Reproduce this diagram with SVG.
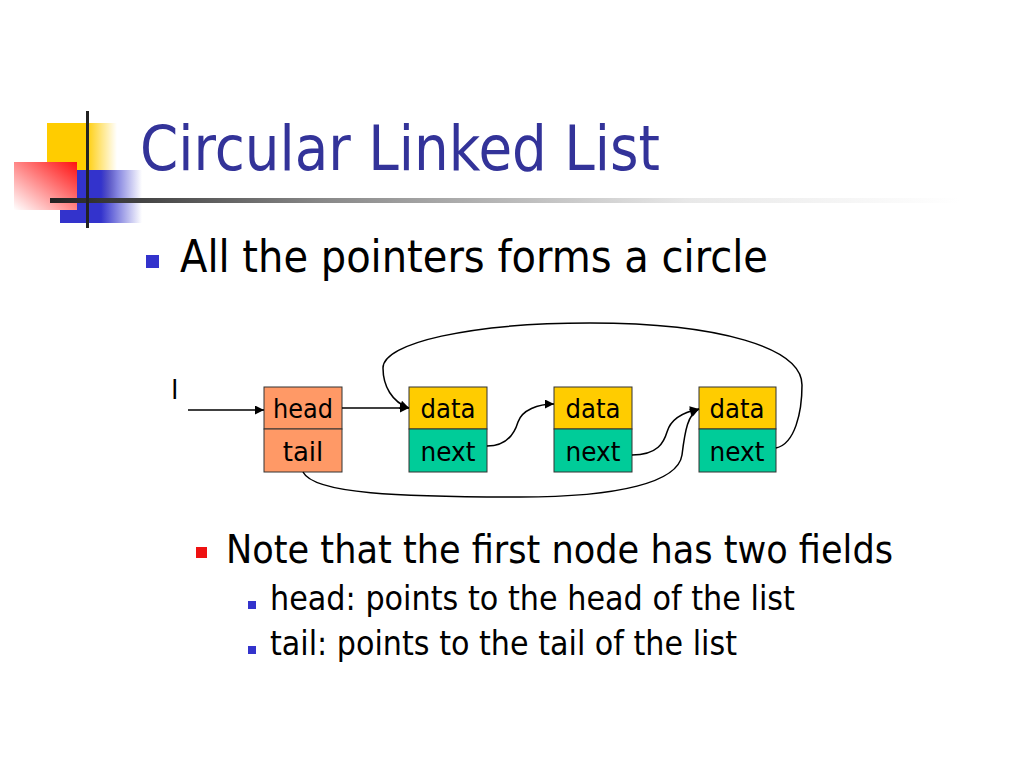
<svg xmlns="http://www.w3.org/2000/svg" width="1024" height="768" viewBox="0 0 1024 768">
<defs>
<linearGradient id="gYellow" x1="0" y1="0" x2="1" y2="0">
<stop offset="0" stop-color="#FFCC00"/><stop offset="0.55" stop-color="#FFCC00"/><stop offset="1" stop-color="#FFCC00" stop-opacity="0"/>
</linearGradient>
<linearGradient id="gRed" x1="1" y1="0" x2="0" y2="1">
<stop offset="0" stop-color="#FF1010"/><stop offset="1" stop-color="#FFFFFF"/>
</linearGradient>
<linearGradient id="gBlue" x1="0" y1="0" x2="1" y2="0">
<stop offset="0" stop-color="#3333CC"/><stop offset="0.5" stop-color="#3333CC"/><stop offset="1" stop-color="#3333CC" stop-opacity="0"/>
</linearGradient>
<linearGradient id="gLine" x1="0" y1="0" x2="1" y2="0">
<stop offset="0" stop-color="#222222"/><stop offset="0.3" stop-color="#888888"/><stop offset="0.7" stop-color="#E8E8E8"/><stop offset="1" stop-color="#FFFFFF"/>
</linearGradient>
<marker id="arr" viewBox="0 0 10 10" refX="10" refY="5" markerWidth="10" markerHeight="9" markerUnits="userSpaceOnUse" orient="auto">
<path d="M0,0 L10,5 L0,10 z" fill="#000"/>
</marker>
<style>
.t{font-family:"DejaVu Sans","Liberation Sans",sans-serif;}
.box{stroke:#333;stroke-width:1;}
.hd{fill:#FF9966;}
.dt{fill:#FFCC00;}
.nx{fill:#00CC99;}
.lbl{font-family:"DejaVu Sans","Liberation Sans",sans-serif;font-size:26px;fill:#000;text-anchor:middle;}
.con{fill:none;stroke:#000;stroke-width:1.5;}
.arrow{marker-end:url(#arr);}
</style>
</defs>
<rect width="1024" height="768" fill="#fff"/>

<g id="decor">
<rect x="47" y="123" width="70" height="75" fill="url(#gYellow)"/>
<rect x="60" y="170" width="82" height="53" fill="url(#gBlue)"/>
<rect x="14" y="162" width="63" height="48" fill="url(#gRed)"/>
<rect x="50" y="198" width="910" height="5" fill="url(#gLine)"/>
<rect x="86" y="111" width="3" height="117" fill="#222"/>
</g>

<g id="title">
<text class="t" x="140" y="170" font-size="63" fill="#333399" textLength="520" lengthAdjust="spacingAndGlyphs">Circular Linked List</text>
</g>

<g id="bullet1">
<rect x="146" y="255" width="13" height="13" fill="#3333CC"/>
<text class="t" x="180" y="272" font-size="45" fill="#000" textLength="588" lengthAdjust="spacingAndGlyphs">All the pointers forms a circle</text>
</g>

<g id="label-l">
<text class="t" x="171" y="399" font-size="27" fill="#000">l</text>
</g>

<g id="node-head">
<rect class="box hd" x="264" y="387" width="78" height="42"/>
<rect class="box hd" x="264" y="429" width="78" height="43"/>
<text class="lbl" x="303" y="418" textLength="60" lengthAdjust="spacingAndGlyphs">head</text>
<text class="lbl" x="303" y="461">tail</text>
</g>

<g id="node1">
<rect class="box dt" x="409" y="387" width="78" height="42"/>
<rect class="box nx" x="409" y="429" width="78" height="43"/>
<text class="lbl" x="448" y="418" textLength="55" lengthAdjust="spacingAndGlyphs">data</text>
<text class="lbl" x="448" y="461" textLength="55" lengthAdjust="spacingAndGlyphs">next</text>
</g>

<g id="node2">
<rect class="box dt" x="554" y="387" width="78" height="42"/>
<rect class="box nx" x="554" y="429" width="78" height="43"/>
<text class="lbl" x="593" y="418" textLength="55" lengthAdjust="spacingAndGlyphs">data</text>
<text class="lbl" x="593" y="461" textLength="55" lengthAdjust="spacingAndGlyphs">next</text>
</g>

<g id="node3">
<rect class="box dt" x="699" y="387" width="77" height="42"/>
<rect class="box nx" x="699" y="429" width="77" height="43"/>
<text class="lbl" x="737" y="418" textLength="55" lengthAdjust="spacingAndGlyphs">data</text>
<text class="lbl" x="737" y="461" textLength="55" lengthAdjust="spacingAndGlyphs">next</text>
</g>

<g id="connectors">
<path class="con arrow" d="M188,410 L264,410"/>
<path class="con arrow" d="M342,408 L409,408"/>
<path class="con arrow" d="M487,446 C508,446 515,432 518,422 C522,410 538,404 554,404"/>
<path class="con arrow" d="M632,455 C658,455 664,442 667,432 C671,418 684,412 699,409"/>
<path class="con arrow" d="M776,448 C795,444 802,412 802,385 C802,348 720,323 590,323 C470,323 383,343 383,368 C383,386 392,402 409,408"/>
<path class="con arrow" d="M303,472 C314,494 400,497 520,497 C620,497 678,482 682,455 C685,430 688,414 699,409"/>
</g>

<g id="notes">
<rect x="196" y="547" width="11" height="11" fill="#EE1111"/>
<text class="t" x="226" y="563" font-size="39" fill="#000" textLength="667" lengthAdjust="spacingAndGlyphs">Note that the first node has two fields</text>
<rect x="248" y="601" width="8" height="8" fill="#3333CC"/>
<text class="t" x="270" y="610" font-size="33" fill="#000" textLength="525" lengthAdjust="spacingAndGlyphs">head: points to the head of the list</text>
<rect x="248" y="646" width="8" height="8" fill="#3333CC"/>
<text class="t" x="270" y="655" font-size="33" fill="#000" textLength="467" lengthAdjust="spacingAndGlyphs">tail: points to the tail of the list</text>
</g>
</svg>
